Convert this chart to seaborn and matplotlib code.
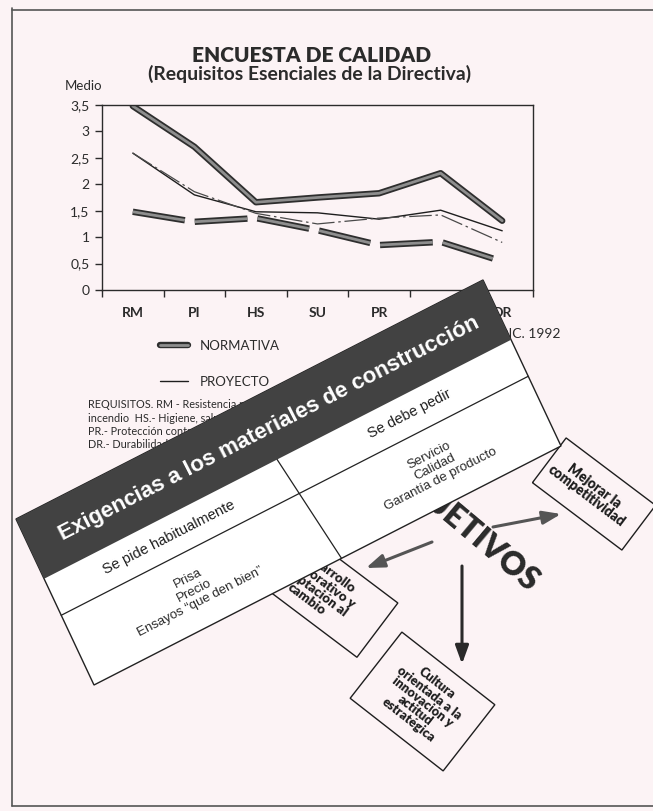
import numpy as np
import pandas as pd
import matplotlib
matplotlib.use("Agg")
import matplotlib.pyplot as plt
import matplotlib.patheffects as pe
import seaborn as sns
from matplotlib.transforms import Affine2D
from matplotlib.patches import Polygon, FancyArrowPatch
from matplotlib.lines import Line2D

# ------------------------------
# Data
# ------------------------------
requisitos = ["RM", "PI", "HS", "SU", "PR", "AE", "DR"]
normativa = [3.48, 2.71, 1.66, 1.75, 1.83, 2.21, 1.31]
proyecto = [2.59, 1.80, 1.48, 1.46, 1.34, 1.51, 1.12]
serie_3 = [2.59, 1.86, 1.45, 1.25, 1.36, 1.42, 0.90]
serie_4 = [1.48, 1.29, 1.36, 1.13, 0.85, 0.91, 0.54]
series_names = ["NORMATIVA", "PROYECTO", "SERIE 3", "SERIE 4"]
legend_names = ["NORMATIVA", "PROYECTO"]

y_ticks = [0, 0.5, 1, 1.5, 2, 2.5, 3, 3.5]
y_tick_labels = ["0", "0,5", "1", "1,5", "2", "2,5", "3", "3,5"]

requisitos_txt = [
    "REQUISITOS. RM - Resistencia mecánica y estabilidad. PI.- Protección contra",
    "incendio  HS.- Higiene, salud y medio ambiente. SU.- Seguridad de utilización.",
    "PR.- Protección contra el ruido. AE.- Ahorro de energía y aislamiento.",
    "DR.- Durabilidad.",
]

banner_title = "Exigencias a los materiales de construcción"
col_headers = ["Se pide habitualmente", "Se debe pedir"]
col_left = ["Prisa", "Precio", "Ensayos \u201cque den bien\u201d"]
col_right = ["Servicio", "Calidad", "Garantía de producto"]

df = pd.DataFrame({
    "requisito": requisitos * 4,
    "valor": normativa + proyecto + serie_3 + serie_4,
    "serie": [n for n in series_names for _ in requisitos],
})

# ------------------------------
# Figure setup (work in image pixels, y down)
# ------------------------------
W, H = 653, 811
BG = "#fcf3f5"
INK = "#2b2b2b"

sns.set_theme(style="white")
plt.rcParams["font.family"] = ["Lato", "DejaVu Sans"]

fig = plt.figure(figsize=(W / 100, H / 100), dpi=100, facecolor=BG)
IMG = Affine2D().scale(1, -1).translate(0, H)
renderer = fig.canvas.get_renderer()


def fit_width(t, target):
    rot = t.get_rotation()
    t.set_rotation(0)
    w = t.get_window_extent(renderer).width
    t.set_fontsize(t.get_fontsize() * target / w)
    t.set_rotation(rot)


# ------------------------------
# Line chart
# ------------------------------
ax_left, ax_right, ax_top, ax_bottom = 102, 533, 105, 290
ax = fig.add_axes([ax_left / W, 1 - ax_bottom / H, (ax_right - ax_left) / W, (ax_bottom - ax_top) / H])
ax.set_facecolor("none")

sns.lineplot(
    data=df, x="requisito", y="valor", hue="serie", style="serie",
    hue_order=series_names, style_order=series_names,
    palette={"NORMATIVA": "#8e8e8e", "PROYECTO": "#1e1e1e", "SERIE 3": "#4a4a4a", "SERIE 4": "#8e8e8e"},
    dashes={"NORMATIVA": "", "PROYECTO": "", "SERIE 3": (18, 3, 2, 3), "SERIE 4": (19, 3.6)},
    sort=False, legend=False, ax=ax,
)

lines = ax.get_lines()[:4]
line_norm, line_proy, line_s3, line_s4 = lines
for ln in (line_norm, line_s4):
    ln.set_linewidth(2.0)
    ln.set_path_effects([pe.Stroke(linewidth=4.6, foreground="#2e2e2e"), pe.Normal()])
line_proy.set_linewidth(1.0)
line_s3.set_linewidth(0.9)

ax.set_xlim(-0.5, 6.5)
ax.set_ylim(0, 3.5)
ax.set_xticks(np.arange(-0.5, 7, 1))
ax.set_xticklabels([])
ax.set_xticks(range(len(requisitos)), minor=True)
ax.set_xticklabels(requisitos, minor=True, fontsize=10, fontweight="bold", color=INK)
ax.tick_params(axis="x", which="major", direction="out", length=5, width=1, bottom=True, color=INK)
ax.tick_params(axis="x", which="minor", length=0, pad=12)
ax.set_yticks(y_ticks)
ax.set_yticklabels(y_tick_labels, fontsize=10, color=INK)
ax.tick_params(axis="y", direction="out", length=5, width=1, left=True, pad=4, color=INK)
ax.set_xlabel("")
ax.set_ylabel("")
for side in ["top", "right", "bottom", "left"]:
    ax.spines[side].set_visible(True)
    ax.spines[side].set_color(INK)
    ax.spines[side].set_linewidth(1.0)

leg = ax.legend(
    handles=[line_norm, line_proy], labels=legend_names,
    loc="upper left", bbox_to_anchor=(160, 340), bbox_transform=IMG,
    frameon=False, fontsize=9.5, handlelength=2.1, handletextpad=0.9,
    labelspacing=1.8, borderpad=0, borderaxespad=0,
)
for t in leg.get_texts():
    t.set_color(INK)

# Titles and chart texts
t1 = fig.text(312, 55, "ENCUESTA DE CALIDAD", transform=IMG, ha="center", va="center",
              fontsize=15, fontweight="heavy", color=INK)
fit_width(t1, 240)
t2 = fig.text(310, 74, "(Requisitos Esenciales de la Directiva)", transform=IMG, ha="center",
              va="center", fontsize=12, fontweight="bold", color=INK)
fit_width(t2, 320)
fig.text(65, 86, "Medio", transform=IMG, ha="left", va="center", fontsize=9.5, color=INK)
fig.text(561, 334, "DIC. 1992", transform=IMG, ha="right", va="center", fontsize=10, color=INK)

for i, s in enumerate(requisitos_txt):
    fig.text(88, 405 + 13.3 * i, s, transform=IMG, ha="left", va="center", fontsize=7.8, color=INK)

# Page frame
for xs, ys in [([12, 12], [8, 806]), ([12, 660], [10, 10]), ([12, 660], [806, 806])]:
    fig.add_artist(Line2D(xs, ys, transform=IMG, color="#555555", lw=1.2, zorder=2))

# ------------------------------
# Diagram behind the table
# ------------------------------
def caja(cx, cy, largo, ancho, ang, texto, fs, dx=0.0, dy=0.0):
    a = np.deg2rad(ang)
    L = np.array([np.cos(a), np.sin(a)])
    S = np.array([np.sin(a), -np.cos(a)])
    c = np.array([cx, cy])
    pts = [c - L * largo / 2 - S * ancho / 2, c + L * largo / 2 - S * ancho / 2,
           c + L * largo / 2 + S * ancho / 2, c - L * largo / 2 + S * ancho / 2]
    fig.add_artist(Polygon(pts, closed=True, fill=False, ec="#1e1e1e", lw=1.0, transform=IMG, zorder=5))
    fig.text(cx + dx, cy + dy, texto, transform=IMG, rotation=-ang, rotation_mode="anchor", ha="center",
             va="center", multialignment="center", fontsize=fs, fontweight="heavy", linespacing=0.95,
             color="#1e1e1e", zorder=6)


caja(594, 494, 112, 56, 37, "Mejorar la\ncompetitividad", 9.8, dx=-4, dy=-3)
caja(317.5, 585, 150, 68, 37, "Desarrollo\ncorporativo y\nadaptación al\ncambio", 9.6)
caja(422.5, 701.5, 118, 84, 38, "Cultura\norientada a la\ninnovación y\nactitud\nestratégica", 9.2)

for (xa, ya), (xb, yb), col in [((493, 527), (561, 514), "#555555"),
                                ((432, 542), (366, 568), "#555555"),
                                ((462, 566), (462, 664), "#2a2a2a")]:
    fig.add_artist(FancyArrowPatch(
        (xa, ya), (xb, yb), transform=IMG, arrowstyle="-|>,head_length=1.1,head_width=0.4",
        mutation_scale=10, lw=2.2, color=col, shrinkA=0, shrinkB=0, zorder=5))

obj = fig.text(535, 585, "OBJETIVOS", transform=IMG, rotation=-40, rotation_mode="anchor",
               ha="right", va="center", fontsize=15, fontweight="heavy", color="#2a2a2a", zorder=5)
fit_width(obj, 178)

# ------------------------------
# Rotated table on top
# ------------------------------
x0, y0 = 16, 519
U = (467, -239)
V = (78, 166)
TBL = Affine2D(np.array([[U[0], V[0], x0], [U[1], V[1], y0], [0, 0, 1]])) + IMG
rot = np.degrees(np.arctan2(-U[1], U[0]))

fig.add_artist(Polygon([(0, 0), (1, 0), (1, 1), (0, 1)], closed=True, facecolor="white",
                       edgecolor="#222222", lw=1.0, transform=TBL, zorder=10))
fig.add_artist(Polygon([(0, 0), (1, 0), (1, 0.36), (0, 0.36)], closed=True, facecolor="#424242",
                       edgecolor="none", transform=TBL, zorder=11))
fig.add_artist(Line2D([0, 1], [0.58, 0.58], transform=TBL, color="#222222", lw=0.9, zorder=11))
fig.add_artist(Line2D([0.499, 0.53], [0.36, 1.0], transform=TBL, color="#222222", lw=0.9, zorder=11))

tb = fig.text(0.51, 0.19, banner_title, transform=TBL, rotation=rot, rotation_mode="anchor",
              ha="center", va="center", fontsize=16, fontweight="bold", color="white", zorder=12,
              family=["Liberation Sans", "DejaVu Sans"])
fit_width(tb, 470)

tbl_font = ["Liberation Sans Narrow", "Liberation Sans", "DejaVu Sans"]
for sx, s in zip([0.25, 0.765], col_headers):
    fig.text(sx, 0.47, s, transform=TBL, rotation=rot, rotation_mode="anchor", ha="center",
             va="center", fontsize=10.5, color="#1e1e1e", zorder=12, family=tbl_font)
for sx, items in zip([0.25, 0.765], [col_left, col_right]):
    fig.text(sx, 0.79, "\n".join(items), transform=TBL, rotation=rot, rotation_mode="anchor",
             ha="center", va="center", multialignment="center", fontsize=9.5, linespacing=1.15,
             color="#2a2a2a", zorder=12, family=tbl_font)

fig.savefig("out.png", dpi=100, facecolor=fig.get_facecolor())
